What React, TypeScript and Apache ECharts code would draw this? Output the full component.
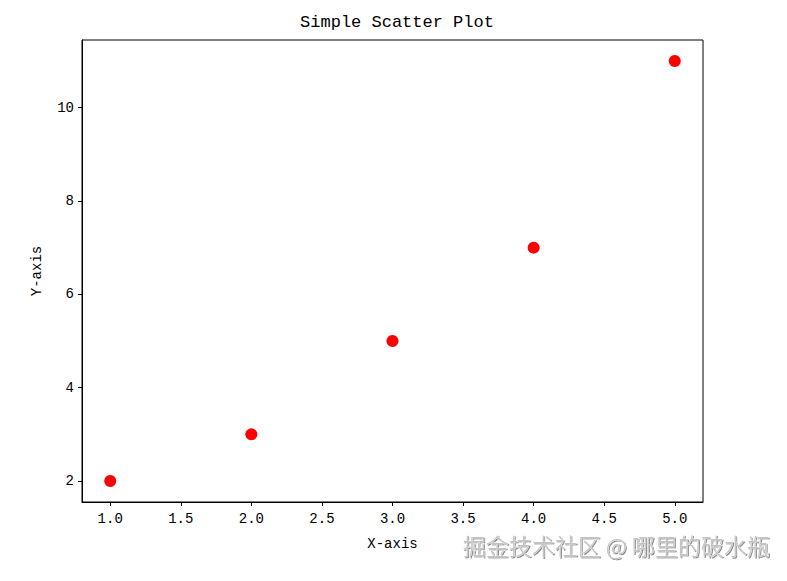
import React, { useEffect, useRef } from "react";
import * as echarts from "echarts";

const xValues = [1, 2, 3, 4, 5];
const yValues = [2, 3, 5, 7, 11];
const xTicks = [1.0, 1.5, 2.0, 2.5, 3.0, 3.5, 4.0, 4.5, 5.0];
const yTicks = [2, 4, 6, 8, 10];
const titleText = "Simple Scatter Plot";
const xLabel = "X-axis";
const yLabel = "Y-axis";
const watermark = "掘金技术社区 @ 哪里的破水瓶";

const FONT = "'Liberation Mono', 'DejaVu Sans Mono', monospace";

export default function App() {
  const ref = useRef<HTMLDivElement>(null);
  useEffect(() => {
    if (!ref.current) return;
    const chart = echarts.init(ref.current, undefined, { renderer: "svg" });
    chart.setOption({
      animation: false,
      backgroundColor: "#fff",
      title: {
        text: titleText,
        left: 392,
        textAlign: "center",
        top: 9,
        textStyle: { fontFamily: FONT, fontSize: 17, fontWeight: "normal", color: "#000" },
      },
      grid: {
        left: 82,
        right: 84,
        top: 40,
        bottom: 79,
        show: true,
        borderColor: "#000",
        borderWidth: 1,
        backgroundColor: "transparent",
      },
      xAxis: {
        type: "value",
        min: 0.8,
        max: 5.2,
        name: xLabel,
        nameLocation: "middle",
        nameGap: 35,
        nameTextStyle: { fontFamily: FONT, fontSize: 14, color: "#000" },
        splitLine: { show: false },
        axisLine: { show: true, onZero: false, lineStyle: { color: "#000", width: 1 } },
        axisTick: { show: true, inside: false, length: 4, customValues: xTicks, lineStyle: { color: "#000" } },
        axisLabel: {
          customValues: xTicks,
          formatter: (v: number) => v.toFixed(1),
          fontFamily: FONT,
          fontSize: 14,
          color: "#000",
          margin: 10,
        },
      },
      yAxis: {
        type: "value",
        min: 1.55,
        max: 11.45,
        name: yLabel,
        nameLocation: "middle",
        nameGap: 38,
        nameRotate: 90,
        nameTextStyle: { fontFamily: FONT, fontSize: 14, color: "#000" },
        splitLine: { show: false },
        axisLine: { show: true, onZero: false, lineStyle: { color: "#000", width: 1 } },
        axisTick: { show: true, inside: false, length: 4, customValues: yTicks, lineStyle: { color: "#000" } },
        axisLabel: {
          customValues: yTicks,
          formatter: (v: number) => String(v),
          fontFamily: FONT,
          fontSize: 14,
          color: "#000",
          margin: 8,
        },
      },
      series: [
        {
          type: "scatter",
          data: xValues.map((x, i) => [x, yValues[i]]),
          symbolSize: 12,
          itemStyle: { color: "#ff0000", opacity: 1 },
        },
      ],
      graphic: [
        {
          type: "text",
          right: 17,
          top: 533,
          style: {
            text: watermark,
            fontFamily: "'Noto Sans CJK SC', sans-serif",
            fontSize: 23,
            fontWeight: 300,
            fill: "#c4c4c4",
            stroke: "#ffffff",
            lineWidth: 0.5,
            textShadowColor: "rgba(80,80,80,0.7)",
            textShadowOffsetX: 1,
            textShadowOffsetY: 1,
            textShadowBlur: 1,
          },
        },
      ],
    });
    return () => chart.dispose();
  }, []);
  return (
    <div
      ref={ref}
      style={{ position: "fixed", left: 0, top: 0, width: 787, height: 581, background: "#fff" }}
    />
  );
}
